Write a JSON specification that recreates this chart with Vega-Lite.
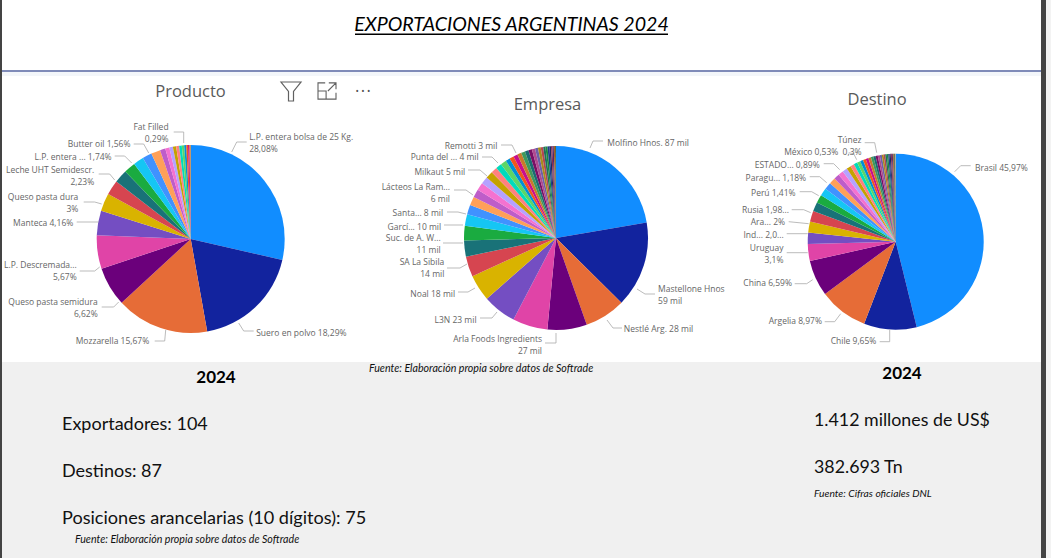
{"$schema":"https://vega.github.io/schema/vega-lite/v6.json","width":1051,"height":558,"autosize":{"type":"fit","contains":"padding"},"padding":0,"background":"#ffffff","view":{"stroke":null},
"resolve":{"scale":{"shape":"independent"}},
"data":{"values":[{"note":"anotacion"}]},
"datasets":{
"producto":[{"rank":1,"value":28.08,"label":"L.P. entera bolsa de 25 Kg.\n28,08%"},{"rank":2,"value":18.29,"label":"Suero en polvo 18,29%"},{"rank":3,"value":15.67,"label":"Mozzarella 15,67%"},{"rank":4,"value":6.62,"label":"Queso pasta semidura\n6,62%"},{"rank":5,"value":5.67,"label":"L.P. Descremada...\n5,67%"},{"rank":6,"value":4.16,"label":"Manteca 4,16%"},{"rank":7,"value":3,"label":"Queso pasta dura\n3%"},{"rank":8,"value":2.5},{"rank":9,"value":2.23,"label":"Leche UHT Semidescr.\n2,23%"},{"rank":10,"value":1.95},{"rank":11,"value":1.74,"label":"L.P. entera ... 1,74%"},{"rank":12,"value":1.6},{"rank":13,"value":1.56,"label":"Butter oil 1,56%"},{"rank":14,"value":0.9},{"rank":15,"value":0.7},{"rank":16,"value":0.6},{"rank":17,"value":0.55},{"rank":18,"value":0.5},{"rank":19,"value":0.45},{"rank":20,"value":0.4},{"rank":21,"value":0.35},{"rank":22,"value":0.29,"label":"Fat Filled\n0,29%"},{"rank":23,"value":0.25},{"rank":24,"value":0.2}],
"empresa":[{"rank":1,"value":87,"label":"Molfino Hnos. 87 mil"},{"rank":2,"value":59,"label":"Mastellone Hnos\n59 mil"},{"rank":3,"value":28,"label":"Nestlé Arg. 28 mil"},{"rank":4,"value":27,"label":"Arla Foods Ingredients\n27 mil"},{"rank":5,"value":24},{"rank":6,"value":23,"label":"L3N 23 mil"},{"rank":7,"value":18,"label":"Noal 18 mil"},{"rank":8,"value":14,"label":"SA La Sibila\n14 mil"},{"rank":9,"value":11,"label":"Suc. de A. W...\n11 mil"},{"rank":10,"value":10,"label":"Garcí... 10 mil"},{"rank":11,"value":8,"label":"Santa... 8 mil"},{"rank":12,"value":6.5},{"rank":13,"value":6,"label":"Lácteos La Ram...\n6 mil"},{"rank":14,"value":5.6},{"rank":15,"value":5.2,"label":"Milkaut 5 mil"},{"rank":16,"value":5},{"rank":17,"value":5},{"rank":18,"value":4.2,"label":"Punta del ... 4 mil"},{"rank":19,"value":4},{"rank":20,"value":4},{"rank":21,"value":3,"label":"Remotti 3 mil"},{"rank":22,"value":3},{"rank":23,"value":2.9},{"rank":24,"value":2.8},{"rank":25,"value":2.7},{"rank":26,"value":2.5},{"rank":27,"value":2.4},{"rank":28,"value":2.2},{"rank":29,"value":2},{"rank":30,"value":1.9},{"rank":31,"value":1.7},{"rank":32,"value":1.5},{"rank":33,"value":1.4},{"rank":34,"value":1.3},{"rank":35,"value":1.1},{"rank":36,"value":1},{"rank":37,"value":0.9},{"rank":38,"value":0.8},{"rank":39,"value":0.7}],
"destino":[{"rank":1,"value":45.97,"label":"Brasil 45,97%"},{"rank":2,"value":9.65,"label":"Chile 9,65%"},{"rank":3,"value":8.97,"label":"Argelia 8,97%"},{"rank":4,"value":6.59,"label":"China 6,59%"},{"rank":5,"value":3.1,"label":"Uruguay\n3,1%"},{"rank":6,"value":2.08,"label":"Ind... 2,0..."},{"rank":7,"value":2,"label":"Ara... 2%"},{"rank":8,"value":1.98,"label":"Rusia 1,98..."},{"rank":9,"value":1.7},{"rank":10,"value":1.5},{"rank":11,"value":1.41,"label":"Perú 1,41%"},{"rank":12,"value":1.3},{"rank":13,"value":1.18,"label":"Paragu... 1,18%"},{"rank":14,"value":1},{"rank":15,"value":0.95},{"rank":16,"value":0.89,"label":"ESTADO... 0,89%"},{"rank":17,"value":0.8},{"rank":18,"value":0.7},{"rank":19,"value":0.65},{"rank":20,"value":0.6},{"rank":21,"value":0.55},{"rank":22,"value":0.53,"label":"México 0,53%"},{"rank":23,"value":0.5},{"rank":24,"value":0.47},{"rank":25,"value":0.45},{"rank":26,"value":0.42},{"rank":27,"value":0.4},{"rank":28,"value":0.38},{"rank":29,"value":0.36},{"rank":30,"value":0.33},{"rank":31,"value":0.3,"label":"Túnez\n0,3%"},{"rank":32,"value":0.28},{"rank":33,"value":0.26},{"rank":34,"value":0.24},{"rank":35,"value":0.22},{"rank":36,"value":0.2},{"rank":37,"value":0.18},{"rank":38,"value":0.16},{"rank":39,"value":0.14},{"rank":40,"value":0.12},{"rank":41,"value":0.1}]
},
"layer":[
{"mark":{"type":"rect","color":"#f0f0f0"},"encoding":{"x":{"datum":2,"type":"quantitative","scale":{"domain":[0,1051]},"axis":null},"x2":{"datum":1041},"y":{"datum":362,"type":"quantitative","scale":{"domain":[558,0]},"axis":null},"y2":{"datum":558}}},
{"mark":{"type":"rect","color":"#f3f6fa"},"encoding":{"x":{"datum":2,"type":"quantitative","scale":{"domain":[0,1051]},"axis":null},"x2":{"datum":1041},"y":{"datum":72,"type":"quantitative","scale":{"domain":[558,0]},"axis":null},"y2":{"datum":76}}},
{"mark":{"type":"rect","color":"#f3f3f3"},"encoding":{"x":{"datum":1046,"type":"quantitative","scale":{"domain":[0,1051]},"axis":null},"x2":{"datum":1051},"y":{"datum":0,"type":"quantitative","scale":{"domain":[558,0]},"axis":null},"y2":{"datum":558}}},
{"mark":{"type":"rect","color":"#444444"},"encoding":{"x":{"datum":1041,"type":"quantitative","scale":{"domain":[0,1051]},"axis":null},"x2":{"datum":1046},"y":{"datum":0,"type":"quantitative","scale":{"domain":[558,0]},"axis":null},"y2":{"datum":558}}},
{"mark":{"type":"rect","color":"#444444"},"encoding":{"x":{"datum":0,"type":"quantitative","scale":{"domain":[0,1051]},"axis":null},"x2":{"datum":2},"y":{"datum":0,"type":"quantitative","scale":{"domain":[558,0]},"axis":null},"y2":{"datum":558}}},
{"mark":{"type":"rect","color":"#7f8bb8"},"encoding":{"x":{"datum":2,"type":"quantitative","scale":{"domain":[0,1051]},"axis":null},"x2":{"datum":1041},"y":{"datum":70,"type":"quantitative","scale":{"domain":[558,0]},"axis":null},"y2":{"datum":72}}},
{"mark":{"type":"rect","color":"#000000"},"encoding":{"x":{"datum":355,"type":"quantitative","scale":{"domain":[0,1051]},"axis":null},"x2":{"datum":668},"y":{"datum":33.5,"type":"quantitative","scale":{"domain":[558,0]},"axis":null},"y2":{"datum":35}}},
{"mark":{"type":"text","text":"EXPORTACIONES ARGENTINAS 2024","font":"Lato","fontStyle":"italic","fontSize":19.6,"color":"#000000","align":"center","baseline":"alphabetic"},"encoding":{"x":{"datum":511.5,"type":"quantitative","scale":{"domain":[0,1051]},"axis":null},"y":{"datum":31,"type":"quantitative","scale":{"domain":[558,0]},"axis":null}}},
{"mark":{"type":"text","text":"Producto","font":"Open Sans","fontSize":16.5,"color":"#5a5a5a","align":"center","baseline":"middle"},"encoding":{"x":{"datum":190.5,"type":"quantitative","scale":{"domain":[0,1051]},"axis":null},"y":{"datum":92,"type":"quantitative","scale":{"domain":[558,0]},"axis":null}}},
{"mark":{"type":"text","text":"Empresa","font":"Open Sans","fontSize":16.5,"color":"#5a5a5a","align":"center","baseline":"middle"},"encoding":{"x":{"datum":547.5,"type":"quantitative","scale":{"domain":[0,1051]},"axis":null},"y":{"datum":105,"type":"quantitative","scale":{"domain":[558,0]},"axis":null}}},
{"mark":{"type":"text","text":"Destino","font":"Open Sans","fontSize":16.5,"color":"#5a5a5a","align":"center","baseline":"middle"},"encoding":{"x":{"datum":877,"type":"quantitative","scale":{"domain":[0,1051]},"axis":null},"y":{"datum":100,"type":"quantitative","scale":{"domain":[558,0]},"axis":null}}},
{"mark":{"type":"point","shape":"M-1 -0.9 L1 -0.9 L0.25 0.05 L0.25 1 L-0.25 1 L-0.25 0.05 Z","size":400,"filled":false,"stroke":"#606060","strokeWidth":1.2,"opacity":1},"encoding":{"x":{"datum":291,"type":"quantitative","scale":{"domain":[0,1051]},"axis":null},"y":{"datum":91,"type":"quantitative","scale":{"domain":[558,0]},"axis":null}}},
{"mark":{"type":"point","shape":"M-0.2 -0.9 L-1 -0.9 L-1 0.9 L1 0.9 L1 0.2 M-1 0 L-0.1 0 L-0.1 0.9 M0.2 -0.9 L1 -0.9 L1 -0.2 M1 -0.9 L0.1 0","size":324,"filled":false,"stroke":"#606060","strokeWidth":1.1,"opacity":1},"encoding":{"x":{"datum":327,"type":"quantitative","scale":{"domain":[0,1051]},"axis":null},"y":{"datum":91,"type":"quantitative","scale":{"domain":[558,0]},"axis":null}}},
{"mark":{"type":"text","text":"• • •","font":"Open Sans","fontSize":9,"color":"#505050","align":"center","baseline":"middle"},"encoding":{"x":{"datum":363,"type":"quantitative","scale":{"domain":[0,1051]},"axis":null},"y":{"datum":91,"type":"quantitative","scale":{"domain":[558,0]},"axis":null}}},
{"mark":{"type":"text","text":"2024","font":"Lato","fontWeight":"bold","fontSize":17,"color":"#000000","align":"center","baseline":"middle"},"encoding":{"x":{"datum":216,"type":"quantitative","scale":{"domain":[0,1051]},"axis":null},"y":{"datum":377.5,"type":"quantitative","scale":{"domain":[558,0]},"axis":null}}},
{"mark":{"type":"text","text":"2024","font":"Lato","fontWeight":"bold","fontSize":17,"color":"#000000","align":"center","baseline":"middle"},"encoding":{"x":{"datum":902,"type":"quantitative","scale":{"domain":[0,1051]},"axis":null},"y":{"datum":373.5,"type":"quantitative","scale":{"domain":[558,0]},"axis":null}}},
{"mark":{"type":"text","text":"Fuente: Elaboración propia sobre datos de Softrade","font":"Lato","fontStyle":"italic","fontSize":10.65,"color":"#111111","align":"left","baseline":"middle"},"encoding":{"x":{"datum":369,"type":"quantitative","scale":{"domain":[0,1051]},"axis":null},"y":{"datum":369,"type":"quantitative","scale":{"domain":[558,0]},"axis":null}}},
{"mark":{"type":"text","text":"Fuente: Elaboración propia sobre datos de Softrade","font":"Lato","fontStyle":"italic","fontSize":10.65,"color":"#111111","align":"left","baseline":"middle"},"encoding":{"x":{"datum":75,"type":"quantitative","scale":{"domain":[0,1051]},"axis":null},"y":{"datum":540,"type":"quantitative","scale":{"domain":[558,0]},"axis":null}}},
{"mark":{"type":"text","text":"Fuente: Cifras oficiales DNL","font":"Lato","fontStyle":"italic","fontSize":10.3,"color":"#111111","align":"left","baseline":"middle"},"encoding":{"x":{"datum":814,"type":"quantitative","scale":{"domain":[0,1051]},"axis":null},"y":{"datum":494,"type":"quantitative","scale":{"domain":[558,0]},"axis":null}}},
{"mark":{"type":"text","text":"Exportadores: 104","font":"Lato","fontSize":18,"color":"#111111","align":"left","baseline":"middle"},"encoding":{"x":{"datum":62,"type":"quantitative","scale":{"domain":[0,1051]},"axis":null},"y":{"datum":425,"type":"quantitative","scale":{"domain":[558,0]},"axis":null}}},
{"mark":{"type":"text","text":"Destinos: 87","font":"Lato","fontSize":18,"color":"#111111","align":"left","baseline":"middle"},"encoding":{"x":{"datum":62,"type":"quantitative","scale":{"domain":[0,1051]},"axis":null},"y":{"datum":472,"type":"quantitative","scale":{"domain":[558,0]},"axis":null}}},
{"mark":{"type":"text","text":"Posiciones arancelarias (10 dígitos): 75","font":"Lato","fontSize":18.1,"color":"#111111","align":"left","baseline":"middle"},"encoding":{"x":{"datum":62,"type":"quantitative","scale":{"domain":[0,1051]},"axis":null},"y":{"datum":519,"type":"quantitative","scale":{"domain":[558,0]},"axis":null}}},
{"mark":{"type":"text","text":"1.412 millones de US$","font":"Lato","fontSize":17.8,"color":"#111111","align":"left","baseline":"middle"},"encoding":{"x":{"datum":814,"type":"quantitative","scale":{"domain":[0,1051]},"axis":null},"y":{"datum":421,"type":"quantitative","scale":{"domain":[558,0]},"axis":null}}},
{"mark":{"type":"text","text":"382.693 Tn","font":"Lato","fontSize":17.8,"color":"#111111","align":"left","baseline":"middle"},"encoding":{"x":{"datum":814,"type":"quantitative","scale":{"domain":[0,1051]},"axis":null},"y":{"datum":468,"type":"quantitative","scale":{"domain":[558,0]},"axis":null}}},
{"data":{"name":"producto"},"transform":[{"stack":"value","groupby":[],"sort":[{"field":"rank"}],"offset":"normalize","as":["a","b"]},{"calculate":"(datum.a+datum.b)/2","as":"m"}],
"encoding":{"x":{"datum":190.7,"type":"quantitative","scale":{"domain":[0,1051]},"axis":null},"y":{"datum":239,"type":"quantitative","scale":{"domain":[558,0]},"axis":null}},
"layer":[
{"mark":{"type":"arc","outerRadius":94},"encoding":{"theta":{"field":"a","type":"quantitative","stack":null,"scale":{"domain":[0,1]}},"theta2":{"field":"b"},"color":{"field":"rank","type":"ordinal","legend":null,"scale":{"range":["#118DFF","#12239E","#E66C37","#6B007B","#E044A7","#744EC2","#D9B300","#D64550","#197278","#1AAB40","#15C6F4","#4092FF","#FFA058","#BE5DC9","#F472D0","#B5A1FF","#C4A200","#FF8080","#00DBBC","#5BD667","#0091D5","#F0561C","#C80E8E","#C97A2B","#3E9A5C","#1A6B72","#7A0F66","#B04A8F","#6C5FA8","#A88B1C","#B5474F","#1F6E5F","#1C8A3C","#1F3B8C","#1B2A5E","#8A2B52","#4B2A6E","#A65A28","#5D6B3A","#2B3A20","#B5A878"]}}}},
{"transform":[{"filter":"isValid(datum.label)"}],"mark":{"type":"point","filled":false,"fill":null,"size":4,"stroke":"#aaaaaa","strokeWidth":0.8,"opacity":1},"encoding":{"shape":{"field":"rank","type":"nominal","legend":null,"scale":{"domain":[1,2,3,4,5,6,7,9,11,13,22],"range":["M41 -87 L46 -97 L56 -97","M48 84 L53 92 L63 92","M-25 91 L-26 102 L-36 102","M-89 68 L-77 68 L-72 63","M-111 32 L-96 32 L-91 28","M-114 -17 L-92 -17","M-107 -37 L-96 -37 L-89 -35","M-92 -65 L-81 -65 L-76 -59","M-76 -83 L-66 -83 L-59 -76","M-57 -95 L-47 -95 L-42 -86","M-17 -107 L-7 -107 L-7 -96"]}}}},
{"transform":[{"filter":"isValid(datum.label)"}],"mark":{"type":"text","font":"Open Sans","fontSize":8.5,"color":"#666666","lineBreak":"\n","lineHeight":12,"baseline":"middle","align":{"expr":"datum.m<0.47?'left':'right'"},"dx":{"expr":"[0,-26,-9,-7,0,-7,-11,-13,0,-16,0,-19,0,-20,0,0,0,0,0,0,0,0,-18][datum.rank]"},"dy":{"expr":"[0,-35,16,0,8,11,3,0,0,3,0,8,0,5,0,0,0,0,0,0,0,0,-4][datum.rank]"}},"encoding":{"theta":{"field":"m","type":"quantitative","stack":null,"scale":{"domain":[0,1]}},"radius":{"value":108},"text":{"field":"label"}}}
]},
{"data":{"name":"empresa"},"transform":[{"stack":"value","groupby":[],"sort":[{"field":"rank"}],"offset":"normalize","as":["a","b"]},{"calculate":"(datum.a+datum.b)/2","as":"m"}],
"encoding":{"x":{"datum":556,"type":"quantitative","scale":{"domain":[0,1051]},"axis":null},"y":{"datum":238,"type":"quantitative","scale":{"domain":[558,0]},"axis":null}},
"layer":[
{"mark":{"type":"arc","outerRadius":92},"encoding":{"theta":{"field":"a","type":"quantitative","stack":null,"scale":{"domain":[0,1]}},"theta2":{"field":"b"},"color":{"field":"rank","type":"ordinal","legend":null}}},
{"transform":[{"filter":"isValid(datum.label)"}],"mark":{"type":"point","filled":false,"fill":null,"size":4,"stroke":"#aaaaaa","strokeWidth":0.8,"opacity":1},"encoding":{"shape":{"field":"rank","type":"nominal","legend":null,"scale":{"domain":[1,2,3,4,6,7,8,9,10,11,13,15,18,21],"range":["M34 -90 L37 -97 L47 -97","M81 51 L89 56 L99 56","M51 82 L57 90 L66 90","M0 95 L0 105 L-11 105","M-76 80 L-64 80 L-59 74","M-98 54 L-88 54 L-81 50","M-109 30 L-96 30 L-89 26","M-113 5 L-93 5","M-112 -13 L-93 -13","M-109 -26 L-98 -26 L-90 -24","M-102 -48 L-90 -48 L-83 -43","M-88 -68 L-76 -68 L-69 -62","M-74 -81 L-64 -81 L-58 -75","M-55 -93 L-44 -93 L-40 -85"]}}}},
{"transform":[{"filter":"isValid(datum.label)"}],"mark":{"type":"text","font":"Open Sans","fontSize":8.5,"color":"#666666","lineBreak":"\n","lineHeight":12,"baseline":"middle","align":{"expr":"datum.m<0.47?'left':'right'"},"dx":{"expr":"[0,-17,1,11,-27,0,-14,-12,-11,-10,-9,-9,0,-9,0,-3,0,0,-6,0,0,-3][datum.rank]"},"dy":{"expr":"[0,-14,19,2,-4,0,-1,-2,-9,-12,-5,-4,0,-8,0,-7,0,0,-3,0,0,-2][datum.rank]"}},"encoding":{"theta":{"field":"m","type":"quantitative","stack":null,"scale":{"domain":[0,1]}},"radius":{"value":106},"text":{"field":"label"}}}
]},
{"data":{"name":"destino"},"transform":[{"stack":"value","groupby":[],"sort":[{"field":"rank"}],"offset":"normalize","as":["a","b"]},{"calculate":"(datum.a+datum.b)/2","as":"m"}],
"encoding":{"x":{"datum":895.7,"type":"quantitative","scale":{"domain":[0,1051]},"axis":null},"y":{"datum":241.7,"type":"quantitative","scale":{"domain":[558,0]},"axis":null}},
"layer":[
{"mark":{"type":"arc","outerRadius":88},"encoding":{"theta":{"field":"a","type":"quantitative","stack":null,"scale":{"domain":[0,1]}},"theta2":{"field":"b"},"color":{"field":"rank","type":"ordinal","legend":null}}},
{"transform":[{"filter":"isValid(datum.label)"}],"mark":{"type":"point","filled":false,"fill":null,"size":4,"stroke":"#aaaaaa","strokeWidth":0.8,"opacity":1},"encoding":{"shape":{"field":"rank","type":"nominal","legend":null,"scale":{"domain":[1,2,3,4,5,6,7,8,11,13,16,22,31],"range":["M59 -70 L65 -76 L75 -76","M-16 100 L-6 100 L-6 88","M-71 80 L-61 80 L-55 72","M-101 42 L-89 42 L-83 38","M-109 11 L-88 11","M-109 -8 L-88 -8","M-107 -20 L-87 -18","M-104 -32 L-92 -32 L-85 -29","M-96 -50 L-84 -50 L-77 -46","M-86 -65 L-76 -65 L-69 -59","M-72 -78 L-62 -78 L-56 -72","M-47 -89 L-42 -88 L-39 -82","M-31 -99 L-21 -99 L-19 -89"]}}}},
{"transform":[{"filter":"isValid(datum.label)"}],"mark":{"type":"text","font":"Open Sans","fontSize":8.5,"color":"#666666","lineBreak":"\n","lineHeight":12,"baseline":"middle","align":{"expr":"datum.m<0.47?'left':'right'"},"dx":{"expr":"[0,-22,-13,-12,-11,-11,-10,-10,-9,0,0,-16,0,-16,0,0,-17,0,0,0,0,0,-21,0,0,0,0,0,0,0,0,-21][datum.rank]"},"dy":{"expr":"[0,-61,-3,-2,-1,-6,-3,-3,-2,0,0,9,0,7,0,0,6,0,0,0,0,0,6,0,0,0,0,0,0,0,0,-1][datum.rank]"}},"encoding":{"theta":{"field":"m","type":"quantitative","stack":null,"scale":{"domain":[0,1]}},"radius":{"value":102},"text":{"field":"label"}}}
]}
]}
